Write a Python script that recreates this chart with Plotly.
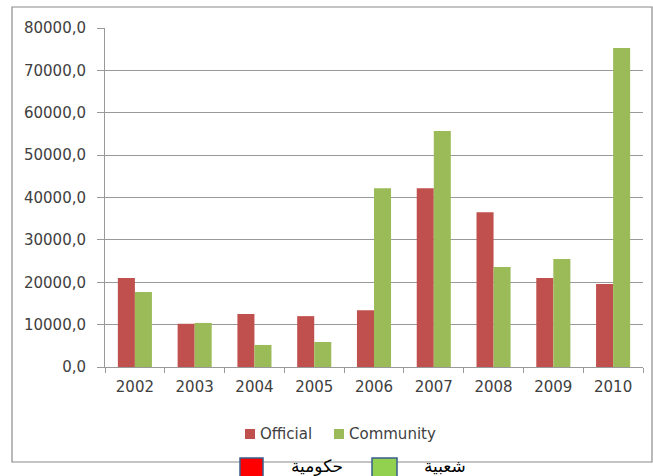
import plotly.graph_objects as go

years = ["2002", "2003", "2004", "2005", "2006", "2007", "2008", "2009", "2010"]
official = [21000, 10200, 12500, 12000, 13400, 42200, 36500, 21000, 19600]
community = [17700, 10400, 5200, 5900, 42200, 55700, 23600, 25500, 75300]
y_ticks = [0, 10000, 20000, 30000, 40000, 50000, 60000, 70000, 80000]
series_names = ["Official", "Community"]
arabic_labels = ["حكومية", "شعبية"]

RED = "#c0504d"
GREEN = "#9bbb59"
GRID = "#999999"
TXT = "#404040"
FONT = "DejaVu Sans"

fig = go.Figure()
fig.add_trace(go.Bar(x=years, y=official, name=series_names[0], marker=dict(color=RED, line=dict(width=0))))
fig.add_trace(go.Bar(x=years, y=community, name=series_names[1], marker=dict(color=GREEN, line=dict(width=0))))

# plot area geometry (pixels)
L, R, T, B = 105, 643, 28, 367
W, H = 653, 476
pw, ph = R - L, B - T
def px(x):
    return (x - L) / pw
def py(y):
    return (B - y) / ph

shapes = [
    # outer chart border
    dict(type="rect", xref="paper", yref="paper", x0=px(12), x1=px(652), y0=py(462), y1=py(7),
         line=dict(color="#8a8a8a", width=1.2), fillcolor="rgba(0,0,0,0)", layer="below"),
    # Excel-style legend squares
    dict(type="rect", xref="paper", yref="paper", x0=px(245), x1=px(255), y0=py(439), y1=py(429),
         line=dict(width=0), fillcolor=RED),
    dict(type="rect", xref="paper", yref="paper", x0=px(334), x1=px(344), y0=py(439), y1=py(429),
         line=dict(width=0), fillcolor=GREEN),
    # Arabic legend squares
    dict(type="rect", xref="paper", yref="paper", x0=px(240), x1=px(263), y0=py(480), y1=py(458),
         line=dict(color="#385d8a", width=1.5), fillcolor="#ff0000"),
    dict(type="rect", xref="paper", yref="paper", x0=px(372), x1=px(397), y0=py(480), y1=py(458),
         line=dict(color="#385d8a", width=1.5), fillcolor="#92d050"),
]

annotations = [
    dict(text=series_names[0], xref="paper", yref="paper", x=px(258), y=py(434), showarrow=False,
         font=dict(family=FONT, size=15, color=TXT), xanchor="left", yanchor="middle"),
    dict(text=series_names[1], xref="paper", yref="paper", x=px(347), y=py(434), showarrow=False,
         font=dict(family=FONT, size=15, color=TXT), xanchor="left", yanchor="middle"),
    dict(text=arabic_labels[0], xref="paper", yref="paper", x=px(317), y=py(466), showarrow=False,
         font=dict(family=FONT, size=17, color="#000000"), xanchor="center", yanchor="middle"),
    dict(text=arabic_labels[1], xref="paper", yref="paper", x=px(445), y=py(466), showarrow=False,
         font=dict(family=FONT, size=17, color="#000000"), xanchor="center", yanchor="middle"),
]

fig.update_layout(
    width=W, height=H,
    margin=dict(l=L, r=W - R, t=T, b=H - B, pad=0),
    paper_bgcolor="white", plot_bgcolor="white",
    barmode="group", bargap=0.43, bargroupgap=0,
    separators=",.",
    font=dict(family=FONT, size=15, color=TXT),
    showlegend=False,
    shapes=shapes,
    annotations=annotations,
)
fig.update_xaxes(type="category", showgrid=False, showline=True, linecolor=GRID, linewidth=1,
                 ticks="outside", tickson="boundaries", ticklen=5, tickcolor=GRID,
                 ticklabelstandoff=6, tickfont=dict(family=FONT, size=15, color=TXT))
fig.update_yaxes(range=[0, 80000], tickvals=y_ticks, tickformat=".1f", showgrid=True,
                 gridcolor=GRID, gridwidth=1, showline=True, linecolor=GRID, linewidth=1,
                 ticks="outside", ticklen=7, tickcolor=GRID, zeroline=False,
                 ticklabelstandoff=8, tickfont=dict(family=FONT, size=15, color=TXT))

fig.write_html("out.html")
